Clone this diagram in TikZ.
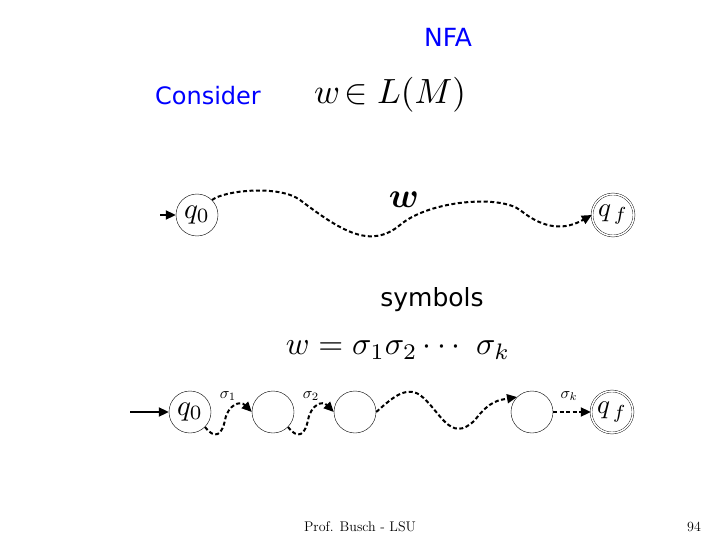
\documentclass[tikz,border=0pt]{standalone}
\usepackage{fontspec}
\usepackage{graphicx}
\setsansfont{DejaVu Sans}
\usetikzlibrary{arrows.meta}

\begin{document}
\begin{tikzpicture}[x=1pt,y=-1pt]
\tikzstyle{state} = [circle, draw, thin, minimum size=42pt, inner sep=0pt]
\tikzstyle{accept} = [state, double, double distance=1.5pt, minimum size=42pt]
\tikzstyle{line} = [draw, line width=2pt, dash pattern=on 4pt off 2.5pt, -{Triangle[length=10pt,width=9pt]}]
\tikzstyle{start} = [draw, line width=2pt, -{Triangle[length=10pt,width=9pt]}]
\useasboundingbox (0,0) rectangle (720,540);
% titles
\node[blue, font=\sffamily\fontsize{25}{25}\selectfont] (title) at (448,37) {NFA};
\node[blue, font=\sffamily\fontsize{24}{24}\selectfont] (consider) at (208,96) {Consider};
\node (lang) at (390,95) {\scalebox{3.5}{$w\!\in L(M)$}};
% top row
\node [state] (q0) at (197,215) {\scalebox{2.9}{$q_0$}};
\node [accept] (qf) at (613,215) {\scalebox{2.7}{$q_{\,f}$}};
\node (wlab) at (404,200) {\scalebox{3.5}{\boldmath$w$}};
\coordinate (in0) at (160,215);
\path [start] (in0) -- (q0);
\path [line] (q0.north east) .. controls (225,190) and (280,185) .. (300,200)
  .. controls (340,230) and (370,250) .. (400,225)
  .. controls (430,200) and (500,195) .. (520,210)
  .. controls (545,230) and (565,230) .. (qf.west);
% middle text
\node[font=\sffamily\fontsize{25}{25}\selectfont] (symbols) at (432,300) {symbols};
\node (word) at (398,350) {\scalebox{3.2}{$w=\sigma_1\sigma_2\cdots\ \sigma_k$}};
% bottom row
\node [state] (p0) at (190,412) {\scalebox{2.9}{$q_0$}};
\node [state] (p1) at (273,412) {};
\node [state] (p2) at (355,412) {};
\node [state] (p3) at (532,412) {};
\node [accept] (pf) at (612,412) {\scalebox{2.7}{$q_{\,f}$}};
\coordinate (in1) at (130,412);
\path [start] (in1) -- (p0);
\path [line] (p0.south east) .. controls (215,440) and (222,435) .. (225,420)
  .. controls (228,405) and (240,400) .. (p1.west);
\path [line] (p1.south east) .. controls (298,440) and (305,435) .. (308,420)
  .. controls (311,405) and (322,400) .. (p2.west);
\path [line] (p2.east) .. controls (390,400) and (405,385) .. (420,395)
  .. controls (440,410) and (450,445) .. (475,420)
  .. controls (490,400) and (500,400) .. (p3.north west);
\path [line] (p3.east) -- (pf.west);
\node (s1) at (228,396) {\scalebox{1.6}{$\sigma_1$}};
\node (s2) at (311,396) {\scalebox{1.6}{$\sigma_2$}};
\node (sk) at (569,396) {\scalebox{1.6}{$\sigma_k$}};
% footer
\node[font=\fontsize{14}{14}\selectfont] (foot) at (360,527) {Prof. Busch - LSU};
\node[font=\fontsize{14}{14}\selectfont] (page) at (694,527) {94};
\end{tikzpicture}
\end{document}
